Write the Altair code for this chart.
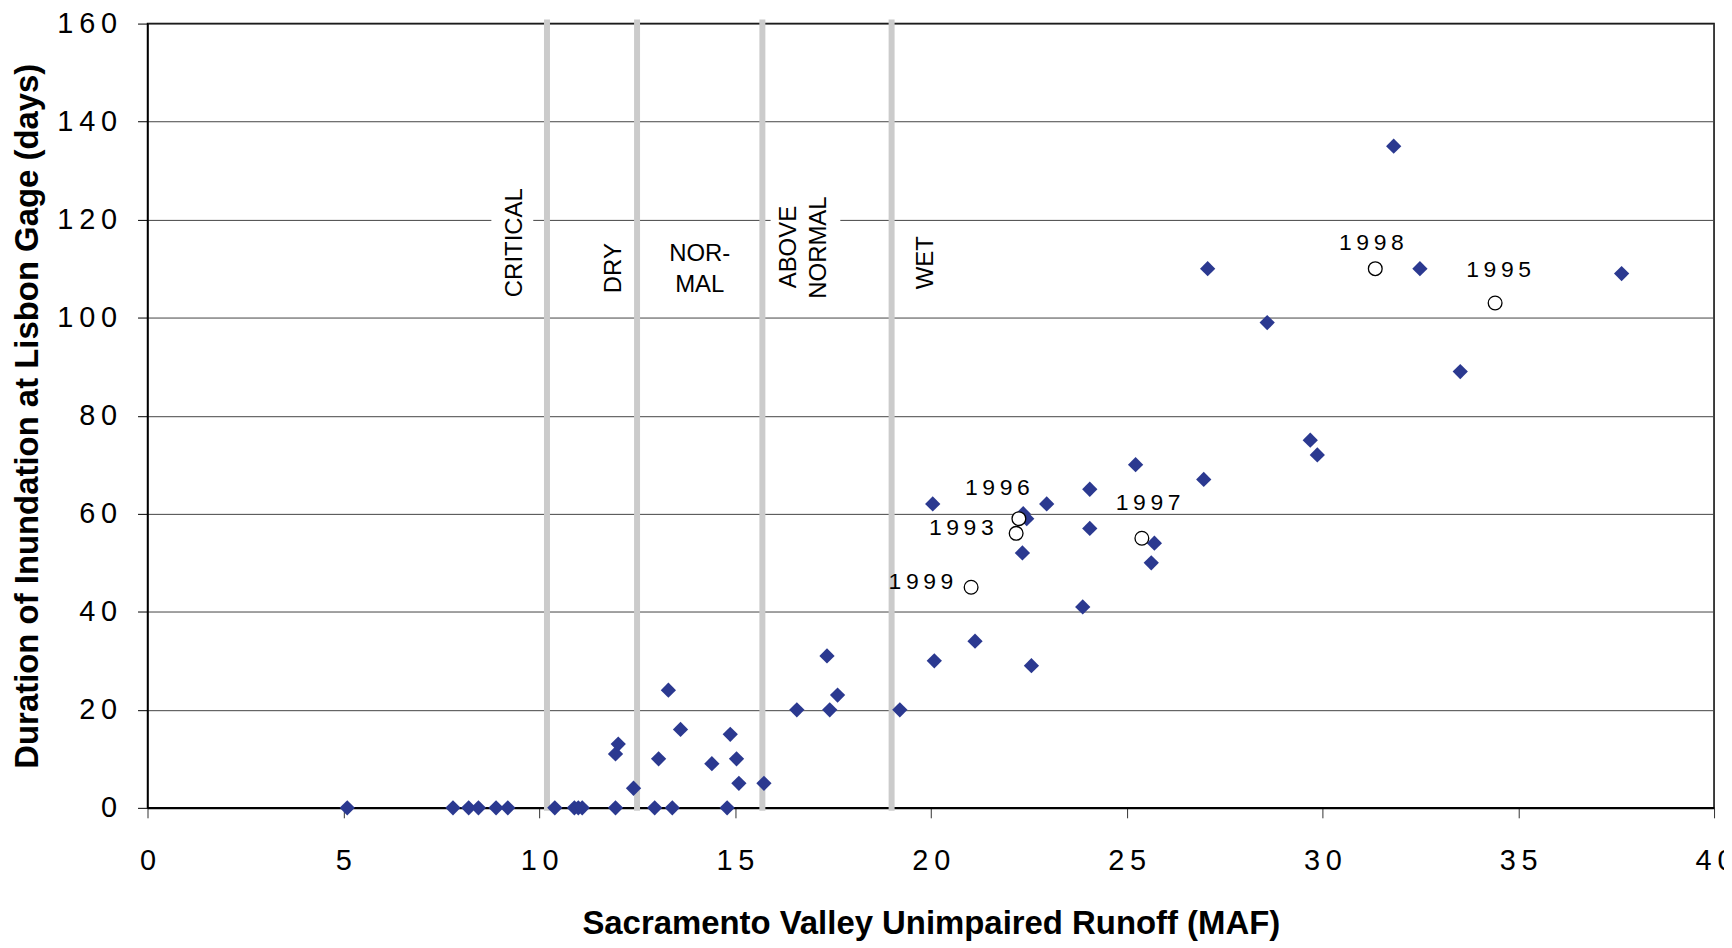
import altair as alt
import pandas as pd

# ---- data ----
runoff = [5.1, 7.8, 8.2, 8.45, 8.9, 9.2, 10.4, 10.9, 11.0, 11.1, 11.95, 12.95, 13.4, 14.8,
          11.95, 12.02, 12.41, 13.05, 13.3, 13.61, 14.41, 14.88, 15.04, 15.1, 15.74,
          16.58, 17.35, 17.42, 17.62, 19.21,
          20.05, 20.09, 21.13, 22.36, 22.45, 22.34, 22.57, 22.96, 23.88, 24.06, 24.06,
          25.23, 25.71, 25.63, 26.97, 27.07, 28.59, 29.69, 29.87, 31.82, 32.49, 33.52, 37.64]
days = [0, 0, 0, 0, 0, 0, 0, 0, 0, 0, 0, 0, 0, 0,
        11, 13, 4, 10, 24, 16, 9, 15, 10, 5, 5,
        20, 31, 20, 23, 20,
        62, 30, 34, 60, 59, 52, 29, 62, 41, 65, 57,
        70, 54, 50, 67, 110, 99, 75, 72, 135, 110, 89, 109]

years = ["1993", "1995", "1996", "1997", "1998", "1999"]
year_runoff = [22.18, 34.41, 22.25, 25.39, 31.35, 21.03]
year_days = [56, 103, 59, 55, 110, 45]
year_label_x = [20.78, 34.50, 21.70, 25.55, 31.25, 19.75]
year_label_y = [57.0, 109.7, 65.3, 62.2, 115.3, 46.0]

class_bounds = [10.2, 12.5, 15.7, 19.0]

vert_labels = ["CRITICAL", "DRY", "ABOVE", "NORMAL", "WET"]
vert_label_x = [9.38, 11.91, 16.39, 17.15, 19.88]
vert_label_y = [115.3, 110.1, 114.4, 114.3, 111.2]
horiz_labels = ["NOR-", "MAL"]
horiz_label_x = [14.10, 14.10]
horiz_label_y = [113.0, 106.7]

# white boxes behind labels that cross the 120 gridline
box_x = [8.78, 15.91]
box_x2 = [9.85, 17.69]
box_y = [105, 105]
box_y2 = [125, 125]

x_ticks = list(range(0, 41, 5))
y_ticks = list(range(0, 161, 20))

W, H = 1572, 787
FONT = "Liberation Sans"
SPACED = "join(split(datum.label, ''), '\u2009')"

xs = alt.Scale(domain=[0, 40], nice=False, zero=False)
ys = alt.Scale(domain=[0, 160], nice=False, zero=False)

x_axis = alt.Axis(values=x_ticks, grid=False, tickSize=10, tickColor="#333333", tickWidth=1,
                  domainColor="black", domainWidth=2, labelPadding=29, labelFlush=False,
                  labelOverlap=False, labelExpr=SPACED,
                  title="Sacramento Valley Unimpaired Runoff (MAF)", titlePadding=32)
y_axis = alt.Axis(values=y_ticks, grid=True, gridColor="#444444", gridWidth=1,
                  tickSize=10, tickColor="black", tickWidth=1,
                  domainColor="black", domainWidth=1.5, labelPadding=21, labelFlush=False,
                  labelOverlap=False, labelExpr=SPACED,
                  title="Duration of Inundation at Lisbon Gage (days)", titlePadding=12)


def X(field="x"):
    return alt.X(f"{field}:Q", scale=xs, axis=x_axis)


def Y(field="y"):
    return alt.Y(f"{field}:Q", scale=ys, axis=y_axis)


df_pts = pd.DataFrame({"x": runoff, "y": days})
df_yr = pd.DataFrame({"x": year_runoff, "y": year_days, "year": years})
df_yrlab = pd.DataFrame({"x": year_label_x, "y": year_label_y, "year": years})
df_bounds = pd.DataFrame({"x": class_bounds})
df_vl = pd.DataFrame({"x": vert_label_x, "y": vert_label_y, "t": vert_labels})
df_hl = pd.DataFrame({"x": horiz_label_x, "y": horiz_label_y, "t": horiz_labels})
df_box = pd.DataFrame({"x": box_x, "x2": box_x2, "y": box_y, "y2": box_y2})

boxes = alt.Chart(df_box).mark_rect(color="white").encode(
    x=X(), x2="x2:Q", y=Y(), y2="y2:Q")

rules = alt.Chart(df_bounds).mark_rule(color="#cbcbcb", strokeWidth=6).encode(
    x=X(), y=alt.value(-4), y2=alt.value(H + 3))

diamonds = alt.Chart(df_pts).mark_point(shape="diamond", filled=True, color="#2b3990",
                                         size=235, opacity=1).encode(x=X(), y=Y())

vtext = alt.Chart(df_vl).mark_text(angle=270, align="center", baseline="middle",
                                   font=FONT, fontSize=24, color="black").encode(
    x=X(), y=Y(), text="t:N")

htext = alt.Chart(df_hl).mark_text(align="center", baseline="middle",
                                   font=FONT, fontSize=24, color="black").encode(
    x=X(), y=Y(), text="t:N")

circles = alt.Chart(df_yr).mark_point(shape="circle", filled=False, fill="white",
                                       stroke="black", strokeWidth=1.3, size=190,
                                       opacity=1).encode(x=X(), y=Y())

yrtext = alt.Chart(df_yrlab).transform_calculate(
    lab="join(split(datum.year, ''), '\u2009')"
).mark_text(align="center", baseline="middle", font=FONT, fontSize=23, color="black").encode(
    x=X(), y=Y(), text="lab:N")

chart = alt.layer(boxes, rules, diamonds, vtext, htext, circles, yrtext).properties(
    width=W, height=H,
    padding={"left": 140, "top": 14, "right": 10, "bottom": 138},
    autosize=alt.AutoSizeParams(type="none"),
).configure_view(stroke="black", strokeWidth=1.5).configure_axis(
    labelFont=FONT, titleFont=FONT, labelFontSize=29, titleFontSize=33,
    titleFontWeight="bold", labelColor="black", titleColor="black"
)

chart.save("out.html", embed_options={"renderer": "svg", "actions": False})
